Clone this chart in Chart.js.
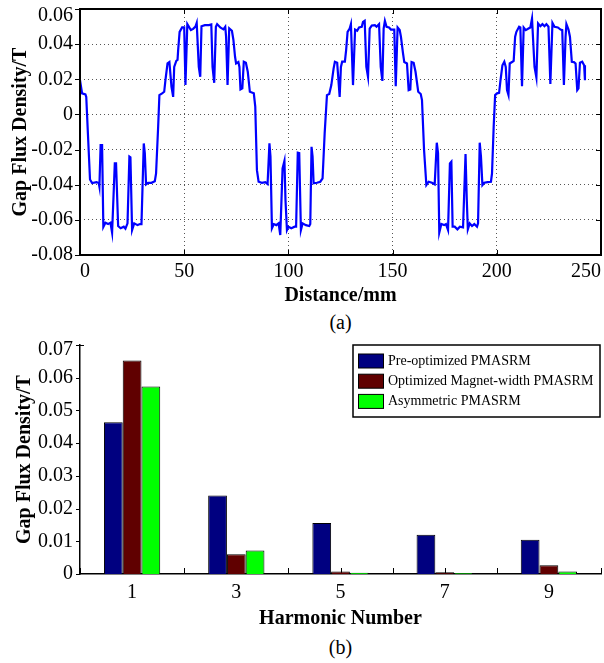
<!DOCTYPE html>
<html lang="en">
<head>
  <meta charset="UTF-8">
  <title>Gap Flux Density</title>
  <script src="https://cdn.jsdelivr.net/npm/chart.js"></script>
  <style>
    body { margin: 0; background: #fff; font-family: "Liberation Serif", "Times New Roman", serif; }
    #page { position: relative; width: 604px; height: 663px; overflow: hidden; }
    canvas { position: absolute; left: 0; }
    .caption { position: absolute; left: 80px; width: 521px; text-align: center; font-size: 20px; line-height: 24px; color: #000; }
  </style>
</head>
<body>
<div id="page">
  <canvas id="fluxChart" width="604" height="310" style="top:0"></canvas>
  <div class="caption" style="top:310px">(a)</div>
  <canvas id="harmonicChart" width="604" height="305" style="top:330px"></canvas>
  <div class="caption" style="top:635px">(b)</div>
</div>

<script>
// air-gap flux density along the rotor surface
const distance = [
  0, 1, 2.6, 3.0, 3.8, 4.8, 5.8, 7.9, 9.0, 9.3, 9.9, 10.6, 11.2, 12.2, 13.5, 14.6, 15.4, 16.7, 17.3, 18.3,
  19.5, 21.0, 21.8, 22.8, 23.7, 24.2, 25.0, 26.0, 27.6, 28.8, 29.5, 30.6, 31.1, 31.7, 32.7, 34.3, 35.9, 36.5,
  37.5, 38.1, 39.4, 40.4, 41.0, 42.0, 42.9, 43.9, 44.7, 45.2, 46.2, 46.8, 47.1, 47.8, 49.0, 50.0, 50.6, 51.5,
  53.2, 54.3, 55.4, 56.0, 57.0, 57.7, 58.3, 59.9, 61.9, 63.0, 63.6, 64.4, 65.2, 65.8, 67.3, 68.8, 69.7, 70.1,
  70.8, 71.6, 72.9, 73.6, 74.4, 74.9, 76.0, 76.5, 77.0, 77.9, 78.6, 79.6, 80.5, 81.5, 83.4, 84.1, 84.9, 85.7,
  87.3, 88.9, 90.0, 90.9, 91.4, 92.1, 93.0, 94.2, 95.3, 96.1, 97.2, 98.1, 98.6, 99.3, 100.0, 101.4, 103.0,
  103.7, 104.5, 105.2, 106.0, 106.8, 108.4, 110.0, 110.5, 111.1, 111.6, 112.1, 113.7, 115.3, 116.4, 117.4,
  118.5, 119.6, 120.6, 121.7, 122.3, 123.4, 124.6, 125.2, 125.8, 127.1, 127.7, 128.4, 129.4, 130.0, 131.0,
  132.0, 133.0, 133.9, 135.2, 135.8, 136.6, 137.4, 138.2, 139.0, 140.0, 141.5, 142.3, 143.5, 144.3, 145.1,
  145.7, 146.3, 147.1, 148.3, 149.2, 150.8, 151.5, 152.4, 153.4, 154.0, 155.0, 155.6, 156.9, 157.7, 158.5,
  159.1, 160.1, 161.0, 162.3, 163.5, 164.1, 165.1, 166.2, 167.3, 168.9, 170.2, 171.2, 171.8, 172.4, 173.4,
  174.7, 175.6, 176.6, 177.5, 178.2, 178.8, 179.8, 181.1, 182.3, 183.8, 185.0, 185.6, 186.1, 187.0, 188.1,
  189.2, 190.5, 191.0, 191.8, 192.4, 193.1, 194.0, 195.6, 197.2, 197.7, 198.5, 199.2, 200.1, 201.1, 201.7,
  202.7, 203.6, 204.3, 204.9, 205.6, 206.2, 207.5, 208.1, 208.8, 209.4, 210.7, 211.3, 212.1, 212.9, 213.9,
  215.2, 216.1, 216.9, 218.1, 219.0, 219.8, 220.9, 221.9, 222.9, 223.8, 224.8, 225.7, 226.7, 227.7, 229.3,
  230.6, 231.4, 232.2, 233.0, 233.4, 234.4, 235.1, 236.0, 237.0, 237.8, 238.6, 239.2, 239.9, 241.0, 241.9, 242.3
];
const flux = [
  0.0195, 0.012, 0.0114, 0.010, -0.011, -0.037, -0.039, -0.0385, -0.039, -0.041, -0.0174, -0.0174, -0.064, -0.0616, -0.0624, -0.0616, -0.0673, -0.0279, -0.0279, -0.0635,
  -0.0648, -0.0639, -0.065, -0.062, -0.024, -0.0244, -0.0658, -0.062, -0.063, -0.0624, -0.0624, -0.0165, -0.022, -0.0398, -0.0389, -0.0389, -0.038, -0.0336,
  -0.007, 0.011, 0.012, 0.0129, 0.0195, 0.029, 0.0298, 0.0157, 0.010, 0.027, 0.0305, 0.031, 0.0366, 0.047, 0.0495, 0.0495, 0.0167, 0.0514,
  0.048, 0.0487, 0.050, 0.0521, 0.0271, 0.0214, 0.0502, 0.0508, 0.0508, 0.0512, 0.027, 0.018, 0.0499, 0.0514, 0.0495, 0.0484, 0.0499, 0.0442,
  0.0167, 0.049, 0.0476, 0.0425, 0.0328, 0.029, 0.0298, 0.027, 0.0142, 0.0148, 0.030, 0.0294, 0.0243, 0.0129, 0.012, 0.0044, -0.0317, -0.0383,
  -0.0389, -0.0385, -0.0396, -0.0165, -0.024, -0.0648, -0.0624, -0.063, -0.062, -0.0686, -0.0307, -0.0264, -0.0487, -0.0658, -0.0639, -0.0648, -0.0639,
  -0.0639, -0.0218, -0.022, -0.0658, -0.062, -0.063, -0.0635, -0.0624, -0.0184, -0.024, -0.0392, -0.0389, -0.0383, -0.0364, -0.0108,
  0.011, 0.0116, 0.0167, 0.0262, 0.030, 0.0294, 0.010, 0.027, 0.030, 0.030, 0.0366, 0.047, 0.0489, 0.0514, 0.0167,
  0.0483, 0.0476, 0.0495, 0.0499, 0.0527, 0.0533, 0.027, 0.0214, 0.0489, 0.0506, 0.0508, 0.0499, 0.0514, 0.027, 0.0191,
  0.0489, 0.0533, 0.0499, 0.0495, 0.0483, 0.0483, 0.0161, 0.0495, 0.048, 0.0442, 0.0347, 0.0298, 0.029, 0.0138, 0.0142,
  0.0298, 0.0294, 0.0243, 0.0129, 0.0116, 0.0082, -0.0203, -0.0402, -0.0383, -0.0389, -0.0398, -0.0161, -0.022, -0.0673, -0.0624,
  -0.063, -0.0624, -0.0658, -0.0279, -0.0269, -0.0639, -0.0639, -0.0654, -0.0639, -0.0643, -0.0226, -0.0487, -0.0654, -0.062, -0.0635,
  -0.0624, -0.0639, -0.062, -0.0161, -0.024, -0.0402, -0.0389, -0.0385, -0.0383, -0.0336, -0.007, 0.011, 0.012, 0.0123, 0.0186,
  0.028, 0.030, 0.027, 0.0138, 0.011, 0.029, 0.030, 0.0305, 0.0442, 0.047, 0.0499, 0.0495, 0.0161, 0.0495, 0.048,
  0.0489, 0.0495, 0.0546, 0.027, 0.021, 0.0518, 0.0502, 0.0514, 0.0502, 0.0514, 0.0499, 0.0173, 0.0521, 0.0499, 0.0495,
  0.0483, 0.048, 0.0167, 0.0442, 0.0514, 0.0483, 0.0442, 0.030, 0.0298, 0.029, 0.0138, 0.0148, 0.0294, 0.030, 0.028, 0.0195
];

// harmonic amplitudes of the three designs
const harmonics = ['1', '3', '5', '7', '9'];
const preOptimized = [0.0464, 0.0240, 0.0156, 0.0120, 0.0105];
const magnetWidth = [0.0653, 0.0060, 0.0008, 0.0005, 0.0027];
const asymmetric = [0.0573, 0.0072, 0.0004, 0.0003, 0.0008];

const serif = '"Liberation Serif", "Times New Roman", serif';
const tickFont = { family: serif, size: 20 };
const titleFont = { family: serif, size: 20, weight: 'bold' };
const fmt = v => (Math.abs(v) < 1e-9 ? '0' : v.toFixed(2));

// the top y label would be clipped at the canvas edge, so it is hidden in the
// scale and drawn a few pixels lower here
function topLabelFmt(max) {
  return v => (Math.abs(v - max) < 1e-9 ? '' : fmt(v));
}
function drawTopLabel(chart, shift) {
  const { ctx, chartArea: a, scales: { y } } = chart;
  ctx.save();
  ctx.font = '20px ' + serif;
  ctx.fillStyle = '#000';
  ctx.textAlign = 'right';
  ctx.textBaseline = 'middle';
  ctx.fillText(fmt(y.max), a.left - 7, a.top + shift);
  ctx.restore();
}
// short outward ticks on the left axis
function drawLeftTicks(chart, len) {
  const { ctx, chartArea: a, scales: { y } } = chart;
  ctx.save();
  ctx.strokeStyle = '#000';
  ctx.lineWidth = 1;
  ctx.beginPath();
  y.ticks.forEach(t => {
    const py = Math.round(y.getPixelForValue(t.value)) + 0.5;
    ctx.moveTo(a.left, py); ctx.lineTo(a.left - len, py);
  });
  ctx.stroke();
  ctx.restore();
}

// box round the flux plot, ticks on every side
const boxPlugin = {
  id: 'box',
  afterDraw(chart) {
    const { ctx, chartArea: a, scales } = chart;
    ctx.save();
    ctx.strokeStyle = '#000';
    ctx.lineWidth = 1;
    ctx.beginPath();
    scales.x.ticks.forEach(t => {
      const px = Math.round(scales.x.getPixelForValue(t.value)) + 0.5;
      ctx.moveTo(px, a.bottom); ctx.lineTo(px, a.bottom - 5);
      ctx.moveTo(px, a.top); ctx.lineTo(px, a.top + 5);
    });
    scales.y.ticks.forEach(t => {
      const py = Math.round(scales.y.getPixelForValue(t.value)) + 0.5;
      ctx.moveTo(a.right, py); ctx.lineTo(a.right - 5, py);
    });
    ctx.stroke();
    ctx.lineWidth = 2;
    ctx.strokeRect(a.left, a.top, a.right - a.left, a.bottom - a.top);
    ctx.restore();
    drawLeftTicks(chart, 5);
    drawTopLabel(chart, 7);
  }
};

new Chart(document.getElementById('fluxChart'), {
  type: 'line',
  data: {
    datasets: [{
      data: distance.map((d, i) => ({ x: d, y: flux[i] })),
      borderColor: '#0000ff',
      borderWidth: 2.2,
      pointRadius: 0,
      tension: 0
    }]
  },
  options: {
    responsive: false,
    animation: false,
    layout: { padding: { top: 9, right: 3, left: 0, bottom: 0 } },
    plugins: { legend: { display: false }, tooltip: { enabled: false } },
    scales: {
      x: {
        type: 'linear', min: 0, max: 250,
        ticks: { stepSize: 50, font: tickFont, color: '#000', padding: 5, maxRotation: 0, align: 'inner' },
        grid: { color: '#555', drawTicks: false },
        border: { display: false, dash: [1, 3] },
        title: { display: true, text: 'Distance/mm', font: titleFont, color: '#000', padding: { top: 0, bottom: 2 } },
        afterFit: s => { s.height = 55; s.paddingLeft = 0; s.paddingRight = 0; }
      },
      y: {
        min: -0.08, max: 0.06,
        ticks: { stepSize: 0.02, font: tickFont, color: '#000', padding: 7, callback: topLabelFmt(0.06) },
        grid: { color: '#555', drawTicks: false },
        border: { display: false, dash: [1, 3] },
        title: { display: true, text: 'Gap Flux Density/T', font: titleFont, color: '#000', padding: { top: 9, bottom: 0 } },
        afterFit: s => { s.width = 80; s.paddingTop = 0; s.paddingBottom = 0; }
      }
    }
  },
  plugins: [boxPlugin]
});

// upward ticks on the harmonic axis, drawn under the bars
const harmonicTicks = {
  id: 'harmonicTicks',
  beforeDatasetsDraw(chart) {
    const { ctx, chartArea: a, scales: { x } } = chart;
    const step = x.getPixelForValue(1) - x.getPixelForValue(0);
    ctx.save();
    ctx.strokeStyle = '#000';
    ctx.lineWidth = 1;
    ctx.beginPath();
    for (let i = 0; i <= harmonics.length * 2; i++) {
      const px = Math.round(a.left + i * step / 2) + 0.5;
      ctx.moveTo(px, a.bottom); ctx.lineTo(px, a.bottom - 6);
    }
    // small inward stub at the top of the value axis
    ctx.moveTo(a.left, a.top + 0.5); ctx.lineTo(a.left + 4, a.top + 0.5);
    ctx.stroke();
    ctx.restore();
    drawLeftTicks(chart, 4);
    drawTopLabel(chart, 5);
  }
};

// boxed legend in the upper right corner
const boxLegend = {
  id: 'boxLegend',
  afterDraw(chart) {
    const { ctx, chartArea: a } = chart;
    const w = 247, h = 72;
    const left = a.right - 1 - w, top = a.top;
    ctx.save();
    ctx.fillStyle = '#fff';
    ctx.fillRect(left, top, w, h);
    ctx.strokeStyle = '#000';
    ctx.lineWidth = 1.5;
    ctx.strokeRect(left, top, w, h);
    ctx.font = '14px ' + serif;
    ctx.textBaseline = 'middle';
    chart.data.datasets.forEach((ds, i) => {
      const cy = top + 16 + i * 20.2;
      ctx.fillStyle = ds.backgroundColor;
      ctx.fillRect(left + 5.5, cy - 7, 25, 14);
      ctx.lineWidth = 1;
      ctx.strokeRect(left + 5.5, cy - 7, 25, 14);
      ctx.fillStyle = '#000';
      ctx.fillText(ds.label, left + 35, cy);
    });
    ctx.restore();
  }
};

const barStyle = { borderColor: '#000', borderWidth: 1, categoryPercentage: 0.54, barPercentage: 1 };

new Chart(document.getElementById('harmonicChart'), {
  type: 'bar',
  data: {
    labels: harmonics,
    datasets: [
      { label: 'Pre-optimized PMASRM', data: preOptimized, backgroundColor: '#000080', ...barStyle },
      { label: 'Optimized Magnet-width PMASRM', data: magnetWidth, backgroundColor: '#600000', ...barStyle },
      { label: 'Asymmetric PMASRM', data: asymmetric, backgroundColor: '#00ff00', ...barStyle }
    ]
  },
  options: {
    responsive: false,
    animation: false,
    layout: { padding: { top: 15, right: 3, left: 0, bottom: 0 } },
    plugins: { legend: { display: false }, tooltip: { enabled: false } },
    scales: {
      x: {
        ticks: { font: tickFont, color: '#000', padding: 7, maxRotation: 0 },
        grid: { display: false, drawTicks: false },
        border: { display: true, color: '#000', width: 1.5 },
        title: { display: true, text: 'Harmonic Number', font: titleFont, color: '#000', padding: { top: 0, bottom: 4 } },
        afterFit: s => { s.height = 61; s.paddingLeft = 0; s.paddingRight = 0; }
      },
      y: {
        min: 0, max: 0.07,
        ticks: { stepSize: 0.01, font: tickFont, color: '#000', padding: 7, callback: topLabelFmt(0.07) },
        grid: { display: false, drawTicks: false },
        border: { display: true, color: '#000', width: 1.5 },
        title: { display: true, text: 'Gap Flux Density/T', font: titleFont, color: '#000', padding: { top: 13, bottom: 0 } },
        afterFit: s => { s.width = 80; s.paddingTop = 0; s.paddingBottom = 0; }
      }
    }
  },
  plugins: [harmonicTicks, boxLegend]
});
</script>
</body>
</html>
